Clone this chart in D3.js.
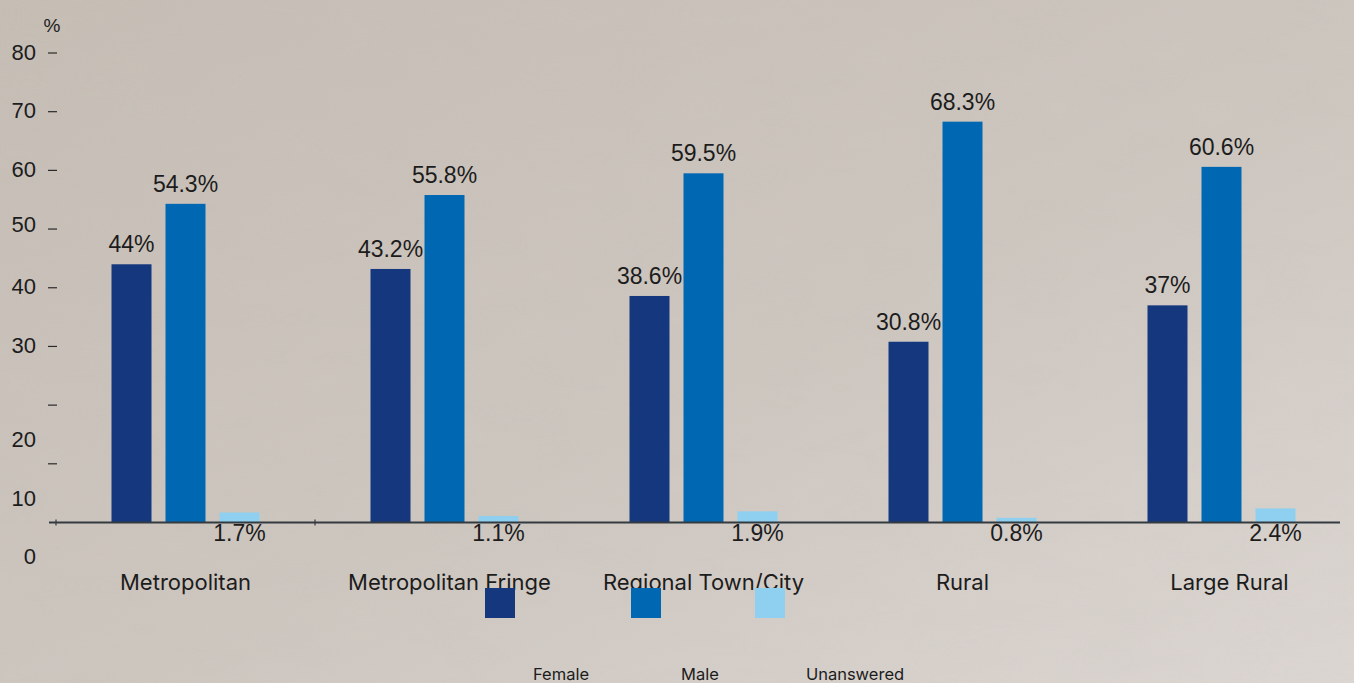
<!DOCTYPE html>
<html>
<head>
<meta charset="utf-8">
<script src="https://cdn.jsdelivr.net/npm/d3@7"></script>
<style>
  html, body { margin: 0; padding: 0; overflow: hidden; }
  body { width: 1354px; height: 683px; }
  text { fill: #1c1c1c; }
</style>
</head>
<body>
<svg id="chart"></svg>
<script>
// data
const categories = ["Metropolitan", "Metropolitan Fringe", "Regional Town/City", "Rural", "Large Rural"];
const seriesNames = ["Female", "Male", "Unanswered"];
const femaleValues = [44, 43.2, 38.6, 30.8, 37];
const maleValues = [54.3, 55.8, 59.5, 68.3, 60.6];
const unansweredValues = [1.7, 1.1, 1.9, 0.8, 2.4];
const yTickValues = [0, 10, 20, 30, 40, 50, 60, 70, 80];
const seriesColors = ["#15377e", "#0068b3", "#8fcff0"];

const width = 1354, height = 683;
const valuesBySeries = [femaleValues, maleValues, unansweredValues];

const svg = d3.select("#chart")
    .attr("width", width)
    .attr("height", height);

// textured paper-ish background
const defs = svg.append("defs");
const grad = defs.append("linearGradient")
    .attr("id", "bg")
    .attr("x1", "0").attr("y1", "0")
    .attr("x2", "1").attr("y2", "1");
grad.append("stop").attr("offset", "0%").attr("stop-color", "#c6beb5");
grad.append("stop").attr("offset", "55%").attr("stop-color", "#cec7c0");
grad.append("stop").attr("offset", "100%").attr("stop-color", "#ddd7d3");

const noise = defs.append("filter").attr("id", "noise");
noise.append("feTurbulence")
    .attr("type", "fractalNoise")
    .attr("baseFrequency", "0.012 0.03")
    .attr("numOctaves", 3)
    .attr("seed", 4);
noise.append("feColorMatrix")
    .attr("type", "matrix")
    .attr("values", "0 0 0 0 0.45  0 0 0 0 0.42  0 0 0 0 0.4  0 0 0 0.22 0");

svg.append("rect").attr("width", width).attr("height", height).attr("fill", "url(#bg)");
svg.append("rect").attr("width", width).attr("height", height)
    .attr("filter", "url(#noise)").attr("opacity", 0.35);

// scales
const y = d3.scaleLinear().domain([0, 80]).range([522.5, 53]);

const x0 = d3.scaleBand()
    .domain(categories)
    .range([56, 1351]);

const groupWidth = 148;
const x1 = d3.scaleBand()
    .domain(seriesNames)
    .range([0, groupWidth])
    .paddingInner(14 / 54)
    .paddingOuter(0);

const groupStart = c => x0(c) + (x0.bandwidth() - groupWidth) / 2;

// y axis: short dashes + labels (the low labels sit lower in the original)
const yAxisG = svg.append("g");
yAxisG.selectAll("line")
    .data(yTickValues.filter(v => v > 0))
    .join("line")
    .attr("x1", 48).attr("x2", 57)
    .attr("y1", d => y(d)).attr("y2", d => y(d))
    .attr("stroke", "#2a2a2a")
    .attr("stroke-width", 1.2);

yAxisG.selectAll("text")
    .data(yTickValues)
    .join("text")
    .attr("x", 36)
    .attr("y", d => d < 30 ? y(d) + 34 : (d === 50 ? y(d) - 5 : y(d) - 1))
    .attr("dy", "0.35em")
    .attr("text-anchor", "end")
    .attr("font-family", "Liberation Sans, Arial, sans-serif")
    .attr("font-size", 22)
    .text(d => d);

svg.append("text")
    .attr("x", 52).attr("y", 25)
    .attr("dy", "0.35em")
    .attr("text-anchor", "middle")
    .attr("font-family", "Liberation Sans, Arial, sans-serif")
    .attr("font-size", 19)
    .text("%");

// bars
const groups = svg.append("g").selectAll("g")
    .data(categories)
    .join("g")
    .attr("transform", c => `translate(${groupStart(c)},0)`);

groups.selectAll("rect")
    .data((c, i) => seriesNames.map((s, j) => ({ s, j, v: valuesBySeries[j][i] })))
    .join("rect")
    .attr("x", d => x1(d.s))
    .attr("width", x1.bandwidth())
    .attr("y", d => y(d.v))
    .attr("height", d => y(0) - y(d.v))
    .attr("fill", d => seriesColors[d.j]);

// x axis line
svg.append("line")
    .attr("x1", 49).attr("x2", 1340)
    .attr("y1", y(0)).attr("y2", y(0))
    .attr("stroke", "#333a40")
    .attr("stroke-width", 2);

svg.append("g").selectAll("line")
    .data(categories.slice(0, 2))
    .join("line")
    .attr("x1", c => x0(c)).attr("x2", c => x0(c))
    .attr("y1", y(0) - 3).attr("y2", y(0) + 3)
    .attr("stroke", "#333a40")
    .attr("stroke-width", 1.2);

// value labels
groups.selectAll("text.value")
    .data((c, i) => seriesNames.map((s, j) => ({ s, j, v: valuesBySeries[j][i] })))
    .join("text")
    .attr("class", "value")
    .attr("x", d => x1(d.s) + x1.bandwidth() / 2)
    .attr("y", d => d.j === 2 ? y(0) + 18 : y(d.v) - 12)
    .attr("text-anchor", "middle")
    .attr("font-family", "Liberation Sans, Arial, sans-serif")
    .attr("font-size", 23)
    .text(d => d.v + "%");

// category labels
svg.append("g").selectAll("text")
    .data(categories)
    .join("text")
    .attr("x", (c, i) => x0(c) + x0.bandwidth() / 2 + (i === 1 ? 5 : i === 4 ? 8 : 0))
    .attr("y", 590)
    .attr("text-anchor", "middle")
    .attr("font-family", "Inter, Roboto, sans-serif")
    .attr("font-size", 22)
    .text(c => c);

// legend: swatches on one row, names further down
const swatchX = [485, 631, 755];
const legendTextX = [561, 700, 855];
const legend = svg.append("g");
legend.selectAll("rect")
    .data(seriesNames)
    .join("rect")
    .attr("x", (d, i) => swatchX[i])
    .attr("y", 588)
    .attr("width", 30)
    .attr("height", 30)
    .attr("fill", (d, i) => seriesColors[i]);

legend.selectAll("text")
    .data(seriesNames)
    .join("text")
    .attr("x", (d, i) => legendTextX[i])
    .attr("y", 680)
    .attr("text-anchor", "middle")
    .attr("font-family", "Inter, Roboto, sans-serif")
    .attr("font-size", 16.5)
    .text(d => d);
</script>
</body>
</html>
